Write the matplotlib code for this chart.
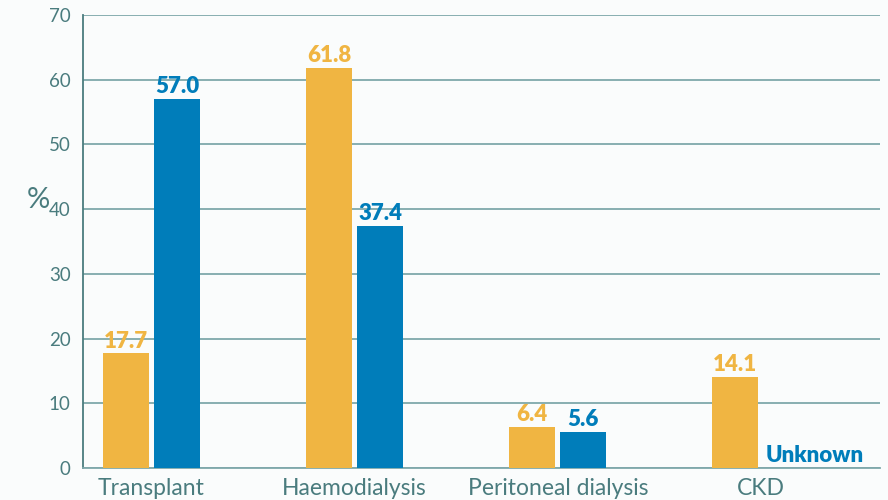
import matplotlib
matplotlib.use("Agg")
import matplotlib.pyplot as plt
import numpy as np

categories = ["Transplant", "Haemodialysis", "Peritoneal dialysis", "CKD"]
series_a = [17.7, 61.8, 6.4, 14.1]          # orange
series_b = [57.0, 37.4, 5.6, None]          # blue (CKD unknown)
y_ticks = [0, 10, 20, 30, 40, 50, 60, 70]

ORANGE = "#F0B542"
BLUE = "#007DBA"
TEAL = "#4A7C7E"
GRID = "#7FA8AB"
BG = "#FAFCFC"

plt.rcParams['font.family'] = ['Lato', 'DejaVu Sans']

fig = plt.figure(figsize=(8.88, 5), dpi=100, facecolor=BG)
ax = fig.add_axes([0.0935, 0.064, 0.8975, 0.906], facecolor=BG)

x = np.arange(len(categories))
w = 0.227
off = 0.126

for i, v in enumerate(series_a):
    ax.bar(x[i] - off, v, width=w, color=ORANGE, zorder=3)
    ax.text(x[i] - off, v + 0.3, f"{v:.1f}", ha='center', va='bottom',
            color=ORANGE, fontsize=16, fontweight='heavy', zorder=4)
for i, v in enumerate(series_b):
    if v is None:
        ax.text(x[i] + off - w / 2 + 0.01, 0.3, "Unknown", ha='left', va='bottom',
                color=BLUE, fontsize=16, fontweight='heavy', zorder=4)
        continue
    ax.bar(x[i] + off, v, width=w, color=BLUE, zorder=3)
    ax.text(x[i] + off, v + 0.3, f"{v:.1f}", ha='center', va='bottom',
            color=BLUE, fontsize=16, fontweight='heavy', zorder=4)

ax.set_ylim(0, 70)
ax.set_xlim(-0.337, 3.586)
ax.set_yticks(y_ticks)
ax.set_xticks(x)
ax.set_xticklabels(categories)
ax.tick_params(axis='both', length=0, colors=TEAL)
ax.tick_params(axis='y', labelsize=13.5, pad=9)
ax.tick_params(axis='x', labelsize=16.5, pad=7)
for lab in ax.get_xticklabels() + ax.get_yticklabels():
    lab.set_color(TEAL)

ax.yaxis.grid(True, color=GRID, linewidth=1.3, zorder=0)
ax.set_axisbelow(True)
for s in ['top', 'right']:
    ax.spines[s].set_visible(False)
ax.spines['left'].set_color(TEAL)
ax.spines['left'].set_linewidth(1.3)
ax.spines['bottom'].set_color(GRID)
ax.spines['bottom'].set_linewidth(1.3)

fig.text(38 / 888, 1 - 200 / 500, "%", ha='center', va='center', color=TEAL, fontsize=21)

fig.savefig("out.png", dpi=100, facecolor=BG)
